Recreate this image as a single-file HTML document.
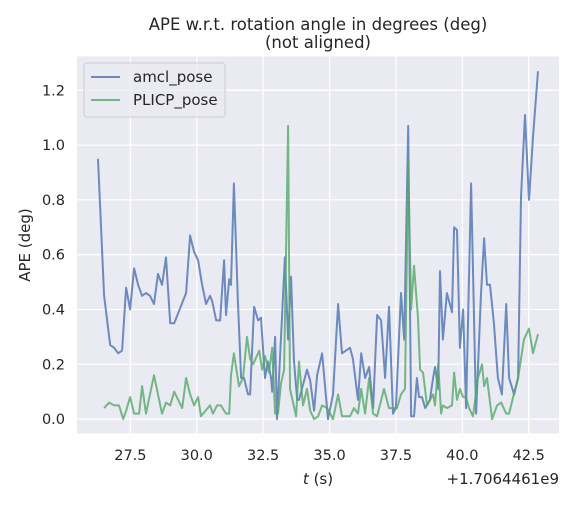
<!DOCTYPE html>
<html><head><meta charset="utf-8"><style>
html,body{margin:0;padding:0;background:#fff;}
svg text{font-family:"DejaVu Sans","Liberation Sans",sans-serif;fill:#262626;}
</style></head><body>
<svg id="chart" width="578" height="505" viewBox="0 0 578 505" xmlns="http://www.w3.org/2000/svg">
<rect x="0" y="0" width="578" height="505" fill="#fff"/>
<rect x="77" y="56.5" width="482" height="376.8" fill="#EAEAF2"/>
<g id="grid"></g><g id="ticks"></g><g id="series"></g>
<text x="318" y="30" font-size="16.5" text-anchor="middle">APE w.r.t. rotation angle in degrees (deg)</text>
<text x="318" y="48" font-size="16.5" text-anchor="middle">(not aligned)</text>
<text transform="translate(30,245) rotate(-90)" font-size="15" text-anchor="middle">APE (deg)</text>
<text x="318" y="484" font-size="15" text-anchor="middle"><tspan font-style="italic">t</tspan> (s)</text>
<text x="559" y="484" font-size="15" text-anchor="end">+1.7064461e9</text>
<g>
<rect x="84" y="63" width="141" height="54" rx="3" fill="#EAEAF2" fill-opacity="0.8" stroke="#cccccc"/>
<g><line x1="91" y1="77" x2="120" y2="77" stroke="#4C72B0" stroke-opacity="0.8" stroke-width="2"/><text x="133" y="82" font-size="15">amcl_pose</text></g>
<g><line x1="91" y1="100" x2="120" y2="100" stroke="#55A868" stroke-opacity="0.8" stroke-width="2"/><text x="133" y="105" font-size="15">PLICP_pose</text></g>
</g>
</svg>
<script>
const amclT=[26.28,26.51,26.74,26.89,27.04,27.19,27.34,27.49,27.64,27.79,27.94,28.09,28.24,28.39,28.54,28.69,28.84,29.00,29.15,29.60,29.75,29.90,30.05,30.20,30.35,30.50,30.58,30.73,30.88,31.03,31.10,31.22,31.29,31.40,31.55,31.67,31.78,31.93,32.01,32.16,32.31,32.42,32.57,32.68,32.80,32.84,32.95,33.02,33.32,33.44,33.55,33.66,33.78,33.85,33.96,34.15,34.27,34.42,34.53,34.72,34.94,35.13,35.32,35.47,35.77,35.88,36.07,36.19,36.34,36.49,36.64,36.79,36.94,37.09,37.24,37.39,37.50,37.69,37.81,37.96,38.07,38.18,38.29,38.37,38.48,38.60,38.78,38.90,38.97,39.09,39.16,39.27,39.42,39.61,39.69,39.80,39.91,40.03,40.14,40.33,40.52,40.70,40.82,40.93,41.04,41.19,41.34,41.49,41.65,41.76,41.95,42.10,42.21,42.36,42.51,42.66,42.85];
const amclV=[0.95,0.45,0.27,0.26,0.24,0.25,0.48,0.40,0.55,0.49,0.45,0.46,0.45,0.42,0.53,0.49,0.59,0.35,0.35,0.46,0.67,0.61,0.58,0.49,0.42,0.45,0.43,0.36,0.36,0.58,0.38,0.51,0.49,0.86,0.43,0.15,0.15,0.09,0.09,0.41,0.36,0.37,0.15,0.21,0.15,0.10,0.30,0.00,0.59,0.29,0.52,0.21,0.07,0.07,0.11,0.18,0.14,0.03,0.16,0.24,0.00,0.09,0.42,0.24,0.26,0.22,0.07,0.24,0.15,0.19,0.04,0.38,0.36,0.15,0.41,0.02,0.04,0.46,0.29,1.07,0.01,0.01,0.15,0.08,0.08,0.04,0.07,0.15,0.19,0.11,0.54,0.29,0.46,0.39,0.70,0.69,0.26,0.40,0.04,0.86,0.02,0.45,0.66,0.49,0.49,0.35,0.15,0.09,0.42,0.15,0.09,0.15,0.81,1.11,0.80,1.03,1.27];
const plicpT=[26.51,26.70,26.89,27.07,27.23,27.34,27.49,27.64,27.83,27.94,28.09,28.39,28.69,28.84,29.00,29.15,29.45,29.60,29.75,29.90,30.05,30.16,30.50,30.61,30.76,30.91,31.10,31.22,31.29,31.40,31.59,31.74,31.89,32.01,32.12,32.35,32.46,32.57,32.72,32.84,32.95,33.06,33.17,33.29,33.44,33.51,33.74,33.85,34.00,34.15,34.27,34.42,34.57,34.72,34.91,35.13,35.32,35.47,35.77,35.92,36.07,36.19,36.34,36.49,36.64,36.79,37.05,37.24,37.39,37.54,37.69,37.84,37.96,38.07,38.18,38.33,38.41,38.52,38.67,38.90,38.97,39.09,39.20,39.27,39.42,39.61,39.69,39.80,39.91,40.03,40.14,40.25,40.40,40.59,40.74,40.82,40.93,41.12,41.31,41.46,41.65,41.76,41.91,42.10,42.32,42.51,42.66,42.85];
const plicpV=[0.04,0.06,0.05,0.05,0.00,0.03,0.08,0.02,0.02,0.12,0.02,0.16,0.02,0.06,0.05,0.10,0.04,0.15,0.09,0.05,0.08,0.01,0.05,0.02,0.05,0.05,0.02,0.02,0.16,0.24,0.12,0.15,0.30,0.22,0.20,0.25,0.18,0.23,0.17,0.26,0.02,0.02,0.13,0.18,1.07,0.11,0.01,0.21,0.05,0.11,0.03,0.00,0.01,0.05,0.04,0.00,0.09,0.01,0.01,0.04,0.02,0.11,0.02,0.15,0.02,0.01,0.11,0.04,0.04,0.04,0.09,0.11,0.94,0.40,0.56,0.37,0.18,0.17,0.05,0.09,0.05,0.20,0.02,0.05,0.04,0.05,0.17,0.07,0.11,0.08,0.08,0.04,0.01,0.15,0.20,0.12,0.15,0.00,0.05,0.06,0.02,0.02,0.08,0.15,0.29,0.33,0.24,0.31];
const xTicks=[27.5,30.0,32.5,35.0,37.5,40.0,42.5];
const xTickLabels=["27.5","30.0","32.5","35.0","37.5","40.0","42.5"];
const yTicks=[0,0.2,0.4,0.6,0.8,1.0,1.2];
const yTickLabels=["0.0","0.2","0.4","0.6","0.8","1.0","1.2"];

const NS="http://www.w3.org/2000/svg";
const X0=77,X1=559,Y0=56.5,Y1=433.3;
const xMin=25.49,xMax=43.64,yMin=-0.052,yMax=1.3235;
function sx(t){return X0+(t-xMin)/(xMax-xMin)*(X1-X0);}
function sy(v){return Y1-(v-yMin)/(yMax-yMin)*(Y1-Y0);}
const grid=document.getElementById('grid'),ticks=document.getElementById('ticks'),series=document.getElementById('series');
xTicks.forEach((t,i)=>{
  const l=document.createElementNS(NS,'line');
  
  
  l.setAttribute('x1',sx(t));l.setAttribute('x2',sx(t));l.setAttribute('y1',Y0);l.setAttribute('y2',Y1);
  l.setAttribute('stroke','#fff');l.setAttribute('stroke-width','1.3');grid.appendChild(l);
  const tx=document.createElementNS(NS,'text');
  
  
  tx.setAttribute('x',sx(t));tx.setAttribute('y',460);tx.setAttribute('font-size','14.5');tx.setAttribute('text-anchor','middle');
  tx.textContent=xTickLabels[i];ticks.appendChild(tx);
});
yTicks.forEach((v,i)=>{
  const l=document.createElementNS(NS,'line');
  
  
  l.setAttribute('x1',X0);l.setAttribute('x2',X1);l.setAttribute('y1',sy(v));l.setAttribute('y2',sy(v));
  l.setAttribute('stroke','#fff');l.setAttribute('stroke-width','1.3');grid.appendChild(l);
  const tx=document.createElementNS(NS,'text');
  
  
  tx.setAttribute('x',65);tx.setAttribute('y',sy(v)+5);tx.setAttribute('font-size','14.5');tx.setAttribute('text-anchor','end');
  tx.textContent=yTickLabels[i];ticks.appendChild(tx);
});
function drawLine(ts,vs,color,name){
  const p=document.createElementNS(NS,'polyline');
  
  
  p.setAttribute('points',ts.map((t,i)=>sx(t).toFixed(1)+','+sy(vs[i]).toFixed(1)).join(' '));
  p.setAttribute('fill','none');p.setAttribute('stroke',color);p.setAttribute('stroke-opacity','0.8');
  p.setAttribute('stroke-width','2');p.setAttribute('stroke-linejoin','round');
  series.appendChild(p);
}
drawLine(amclT,amclV,'#4C72B0','amcl-pose-line');
drawLine(plicpT,plicpV,'#55A868','plicp-pose-line');
</script>
</body></html>
